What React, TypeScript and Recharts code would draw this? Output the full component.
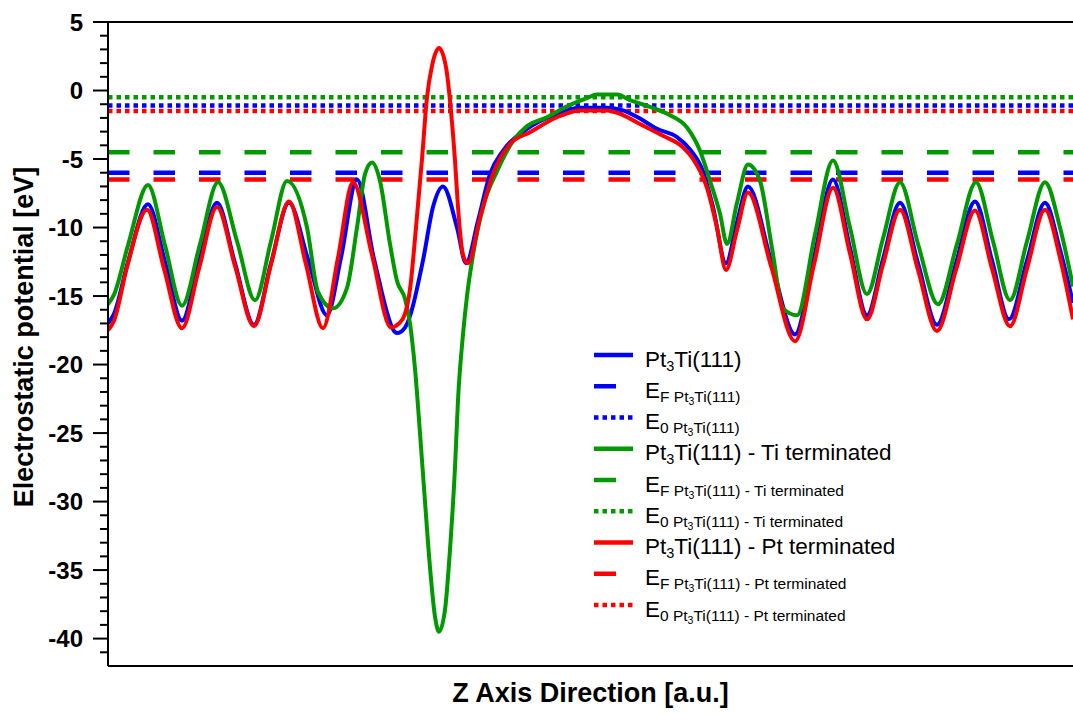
import React from "react";
import { LineChart, Line, XAxis, YAxis, ReferenceLine, Legend } from "recharts";

const FONT = "'Liberation Sans', Arial, sans-serif";

// z position along the slab [a.u.], potential [eV]
const blueZ = [0, 0.6, 2.0, 4.0, 5.7, 7.4, 9.1, 10.9, 12.7, 14.6, 16.3, 18.1, 20.0, 21.9, 23.3, 24.9, 26.6, 28.9, 29.7, 31.5, 32.5, 33.5, 34.9, 35.8, 37.0, 38.2, 39.5, 41.9, 44.9, 47.2, 49.9, 51.5, 53.2, 54.9, 56.9, 58.2, 59.5, 60.5, 61.8, 62.9, 64.0, 66.3, 68.7, 70.6, 72.5, 74.2, 75.9, 77.5, 79.2, 81.0, 82.9, 84.8, 86.7, 88.4, 90.1, 91.9, 93.7, 95.2, 96.5];
const blueV = [-17.0, -16.3, -12.5, -8.3, -12.5, -16.8, -12.5, -8.2, -12.6, -17.1, -12.6, -8.2, -12.3, -16.4, -12.2, -6.5, -12.3, -17.7, -17.3, -12.4, -8.5, -7.0, -10.0, -12.6, -9.5, -6.1, -4.4, -2.8, -1.7, -1.25, -1.25, -1.45, -2.05, -2.8, -3.4, -4.3, -5.9, -8.5, -12.6, -9.6, -7.0, -12.4, -17.8, -12.2, -6.5, -11.5, -16.4, -12.3, -8.2, -12.6, -17.1, -12.6, -8.1, -12.4, -16.7, -12.4, -8.2, -11.6, -15.5];

const greenZ = [0, 0.6, 2.0, 4.0, 5.7, 7.4, 9.2, 11.0, 12.9, 14.7, 16.3, 17.9, 19.9, 21.0, 22.5, 23.9, 24.9, 25.7, 26.4, 27.2, 28.2, 28.9, 29.7, 30.2, 30.7, 31.2, 31.7, 32.2, 32.7, 33.1, 33.7, 34.2, 34.7, 35.0, 35.5, 35.9, 36.5, 37.5, 38.9, 40.5, 41.9, 43.9, 45.9, 47.9, 48.9, 50.9, 52.2, 54.2, 56.2, 57.9, 59.2, 60.2, 61.2, 61.9, 62.9, 64.0, 65.2, 66.4, 67.5, 68.9, 70.7, 72.5, 74.2, 75.9, 77.5, 79.2, 81.0, 83.0, 84.9, 86.8, 88.5, 90.2, 91.9, 93.7, 95.2, 96.5];
const greenV = [-15.6, -14.9, -11.3, -6.9, -11.3, -15.7, -11.2, -6.7, -11.0, -15.3, -11.0, -6.6, -10.0, -14.7, -15.9, -14.4, -10.0, -6.1, -5.25, -6.6, -11.2, -13.9, -15.2, -17.0, -20.3, -25.0, -30.0, -34.8, -38.4, -39.5, -37.9, -33.5, -27.5, -22.6, -17.8, -15.0, -12.0, -8.5, -5.9, -3.7, -2.6, -1.95, -1.15, -0.55, -0.3, -0.3, -0.7, -1.2, -1.8, -2.7, -4.4, -6.6, -9.0, -11.2, -8.2, -5.4, -6.6, -11.5, -15.9, -16.4, -10.5, -5.1, -10.0, -14.85, -10.8, -6.7, -11.2, -15.6, -11.2, -6.7, -11.0, -15.3, -11.0, -6.7, -10.0, -14.3];

const redZ = [0, 0.6, 1.9, 3.9, 5.6, 7.4, 9.1, 10.9, 12.7, 14.6, 16.3, 18.1, 19.8, 21.5, 23.0, 24.5, 26.4, 28.3, 29.1, 29.7, 30.2, 30.8, 31.4, 31.9, 32.4, 33.1, 33.8, 34.3, 34.7, 35.0, 35.5, 36.0, 37.2, 38.5, 40.2, 42.2, 44.9, 47.2, 49.9, 51.5, 53.2, 55.5, 57.5, 58.5, 59.9, 60.9, 61.8, 62.9, 64.0, 66.3, 68.7, 70.6, 72.5, 74.2, 75.9, 77.5, 79.2, 81.0, 82.9, 84.8, 86.7, 88.4, 90.2, 91.9, 93.7, 95.2, 96.5];
const redV = [-17.5, -16.8, -12.9, -8.7, -13.0, -17.35, -13.0, -8.5, -12.8, -17.2, -12.7, -8.1, -12.7, -17.35, -12.2, -6.7, -12.0, -17.3, -17.0, -16.3, -14.5, -10.0, -5.0, -0.5, 1.8, 3.1, 1.7, -1.5, -5.1, -8.5, -12.0, -12.6, -9.3, -6.1, -3.9, -3.05, -1.95, -1.45, -1.45, -1.8, -2.45, -3.3, -4.15, -5.0, -7.1, -10.0, -13.1, -10.2, -7.45, -12.8, -18.3, -12.7, -7.1, -11.9, -16.7, -12.7, -8.7, -13.1, -17.55, -13.1, -8.75, -13.0, -17.2, -13.0, -8.7, -12.2, -16.7];

// Fermi level and vacuum level for each slab
const fermiLevels = [-6.0, -4.5, -6.5];
const vacuumLevels = [-1.1, -0.5, -1.5];

const colors = ["#0000ff", "#009900", "#ff0000"];
const suffixes = ["", " - Ti terminated", " - Pt terminated"];

const yTicks = [5, 4, 3, 2, 1, 0, -1, -2, -3, -4, -5, -6, -7, -8, -9, -10, -11, -12, -13, -14, -15, -16, -17, -18, -19, -20, -21, -22, -23, -24, -25, -26, -27, -28, -29, -30, -31, -32, -33, -34, -35, -36, -37, -38, -39, -40, -41];

const toRows = (z: number[], v: number[]) => z.map((zz, i) => ({ z: zz, v: v[i] }));
const series = [toRows(blueZ, blueV), toRows(greenZ, greenV), toRows(redZ, redV)];

const DASH = "21.5 24";
const DOT = "4.5 4";

const renderYTick = (props: any) => {
  const { x, y, payload } = props;
  const major = payload.value % 5 === 0;
  return (
    <g key={`t-${payload.value}`}>
      <line x1={x - (major ? 15 : 8)} x2={x} y1={y} y2={y} stroke="#000" strokeWidth={2} />
      {major && (
        <text x={x - 25} y={y + 8.5} textAnchor="end" fontSize={24} fontWeight="bold" fontFamily={FONT} fill="#000">
          {payload.value}
        </text>
      )}
    </g>
  );
};

const LegendBox = () => {
  const rows: { color: string; kind: string; sub?: string; suffix: string }[] = [];
  colors.forEach((c, i) => {
    rows.push({ color: c, kind: "solid", suffix: suffixes[i] });
    rows.push({ color: c, kind: "dash", sub: "F", suffix: suffixes[i] });
    rows.push({ color: c, kind: "dot", sub: "0", suffix: suffixes[i] });
  });
  return (
    <svg width={340} height={320} style={{ display: "block", overflow: "visible" }}>
      {rows.map((r, i) => {
        const y = 25 + i * 31.25;
        const by = y + 11.5;
        return (
          <g key={i}>
            <line
              x1={14}
              x2={r.kind === "dash" ? 36 : 53}
              y1={y}
              y2={y}
              stroke={r.color}
              strokeWidth={4.5}
              strokeDasharray={r.kind === "dot" ? DOT : undefined}
            />
            {r.kind === "solid" ? (
              <text x={65} y={by} fontSize={22.5} fontFamily={FONT} fill="#000">
                Pt<tspan fontSize={14.5} dy={4}>3</tspan>
                <tspan fontSize={22.5} dy={-4}>{`Ti(111)${r.suffix}`}</tspan>
              </text>
            ) : (
              <text x={65} y={by} fontSize={22.5} fontFamily={FONT} fill="#000">
                E<tspan fontSize={15.5} dy={4}>{`${r.sub} Pt`}</tspan>
                <tspan fontSize={10.5} dy={3}>3</tspan>
                <tspan fontSize={15.5} dy={-3}>{`Ti(111)${r.suffix}`}</tspan>
              </text>
            )}
          </g>
        );
      })}
    </svg>
  );
};

const XTitle = () => (
  <text x={590.5} y={702} textAnchor="middle" fontSize={27} fontWeight="bold" fontFamily={FONT} fill="#000">
    Z Axis Direction [a.u.]
  </text>
);

const YTitle = () => (
  <text
    x={33}
    y={337}
    transform="rotate(-90, 33, 337)"
    textAnchor="middle"
    fontSize={27}
    fontWeight="bold"
    fontFamily={FONT}
    fill="#000"
  >
    Electrostatic potential [eV]
  </text>
);

export default function App() {
  return (
    <div style={{ position: "absolute", left: 0, top: 0, width: 1073, height: 714, background: "#fff" }}>
      <LineChart width={1073} height={714} margin={{ top: 22, right: 0, bottom: 0, left: 0 }}>
        <XAxis
          type="number"
          dataKey="z"
          domain={[0, 96.5]}
          allowDataOverflow
          tick={false}
          tickLine={false}
          axisLine={{ stroke: "#000", strokeWidth: 2 }}
          height={48}
          label={<XTitle />}
        />
        <YAxis
          type="number"
          domain={[-42, 5]}
          allowDataOverflow
          ticks={yTicks}
          interval={0}
          tickSize={0}
          tickMargin={0}
          tickLine={false}
          tick={renderYTick}
          axisLine={{ stroke: "#000", strokeWidth: 2 }}
          width={108}
          label={<YTitle />}
        />
        <ReferenceLine y={5} stroke="#000" strokeWidth={2} />
        {vacuumLevels.map((v, i) => (
          <ReferenceLine key={`e0-${i}`} y={v} stroke={colors[i]} strokeWidth={4.5} strokeDasharray={DOT} />
        ))}
        {fermiLevels.map((v, i) => (
          <ReferenceLine key={`ef-${i}`} y={v} stroke={colors[i]} strokeWidth={4.5} strokeDasharray={DASH} />
        ))}
        {series.map((d, i) => (
          <Line
            key={`s-${i}`}
            data={d}
            dataKey="v"
            type="monotone"
            stroke={colors[i]}
            strokeWidth={4}
            dot={false}
            activeDot={false}
            strokeLinejoin="round"
            isAnimationActive={false}
          />
        ))}
        <Legend
          layout="horizontal"
          verticalAlign="middle"
          align="center"
          wrapperStyle={{ left: 580, top: 330, width: 340, height: 320 }}
          content={() => <LegendBox />}
        />
      </LineChart>
    </div>
  );
}
